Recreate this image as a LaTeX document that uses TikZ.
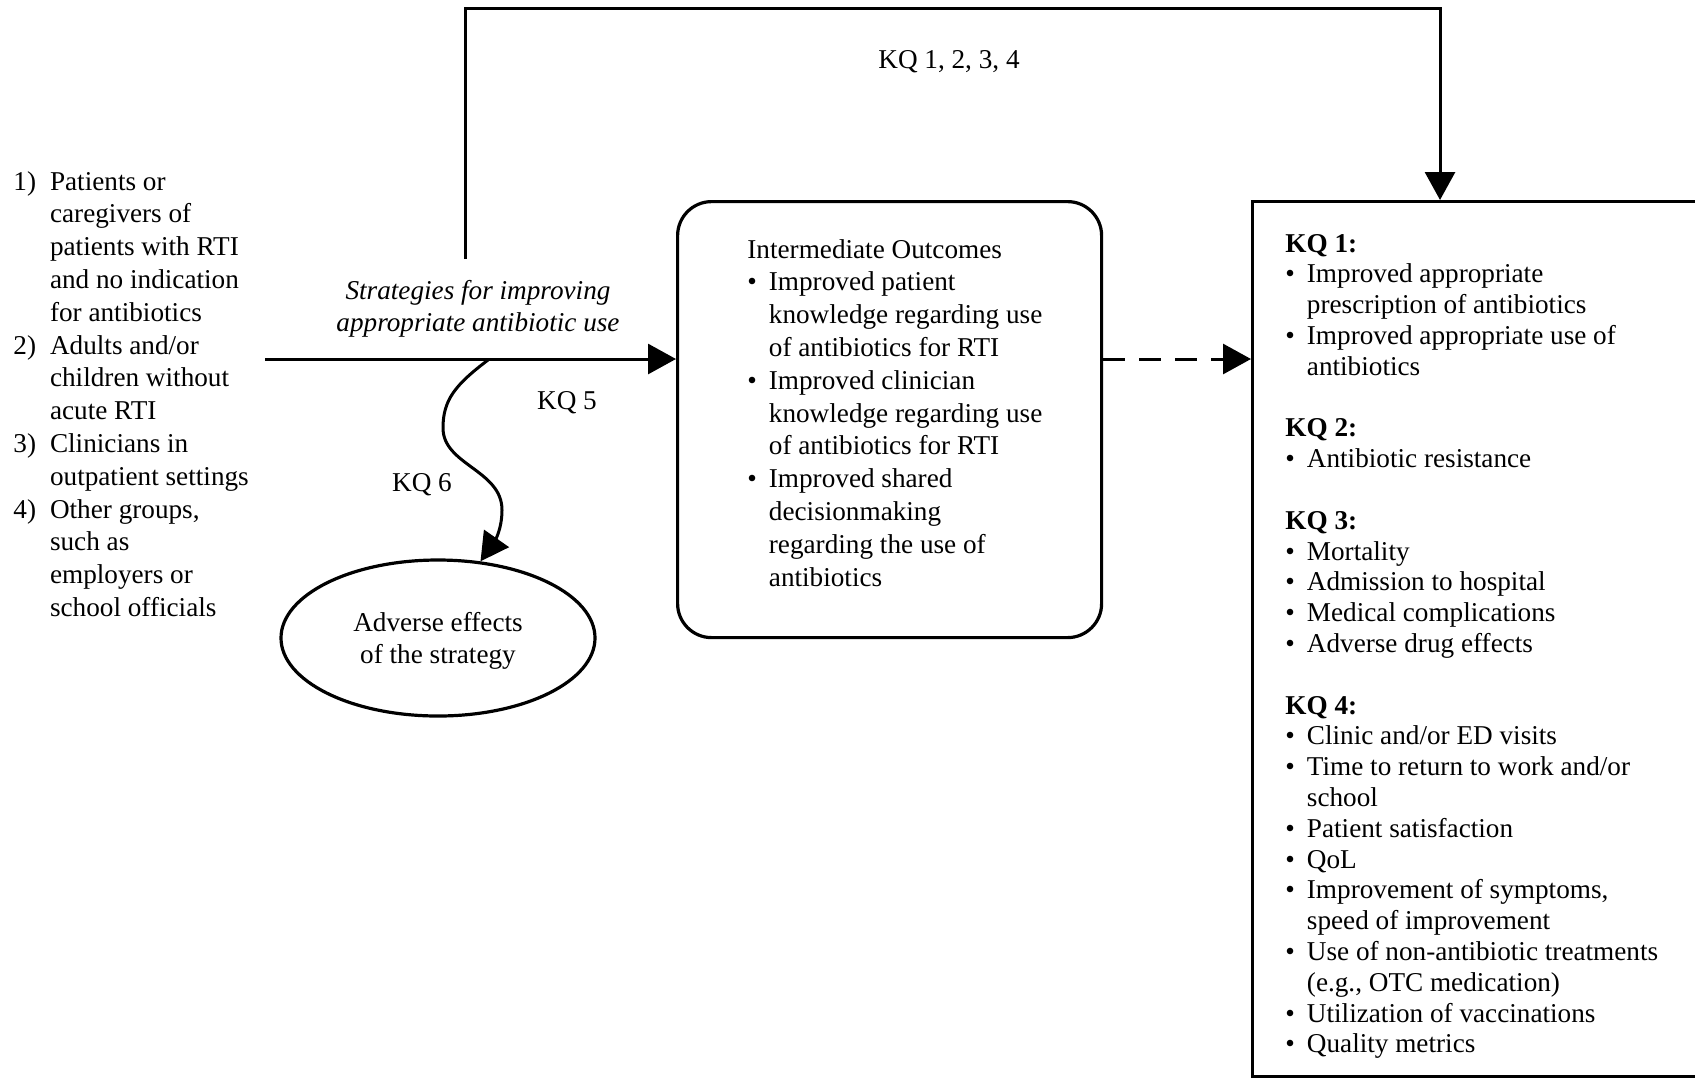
\documentclass[tikz,border=0pt]{standalone}
\usepackage{fontspec}
\setmainfont{Liberation Serif}
\usetikzlibrary{arrows.meta,shapes.geometric}
\tikzset{
  txt/.style={inner sep=0pt, font=\fontsize{13.6pt}{16.4pt}\selectfont},
  txttight/.style={inner sep=0pt, font=\fontsize{13.6pt}{15.4pt}\selectfont},
  conn/.style={line width=1.5pt},
  tip/.style={-{Triangle[length=14pt,width=15pt]}},
  boxline/.style={draw, line width=1.6pt},
}
\newcommand{\bl}{\textbullet}
\newcommand{\kqhead}[1]{\multicolumn{2}{@{}l@{}}{\textbf{#1}}}

\begin{document}
\begin{tikzpicture}[x=0.5pt,y=-0.5pt]
    \useasboundingbox (0,0) rectangle (1695,1077);

    % Boxes
    \node[boxline, rounded corners=17pt, minimum width=212pt, minimum height=218pt, anchor=north west] (inter) at (676,200) {};
    \node[boxline, minimum width=223pt, minimum height=437.5pt, anchor=north west] (outc) at (1251,200) {};
    \node[boxline, ellipse, minimum width=157pt, minimum height=78pt, txt] (adverse) at (438,638)
        {\raisebox{-1.5pt}[\height][\depth]{\begin{tabular}{@{}c@{}}Adverse effects\\of the strategy\end{tabular}}};

    % Population
    \node[txt, anchor=base west] (pop) at (13,190) {\begin{tabular}[t]{@{}l@{\hspace{7pt}}l@{}}
        1) & Patients or\\
           & caregivers of\\
           & patients with RTI\\
           & and no indication\\
           & for antibiotics\\
        2) & Adults and/or\\
           & children without\\
           & acute RTI\\
        3) & Clinicians in\\
           & outpatient settings\\
        4) & Other groups,\\
           & such as\\
           & employers or\\
           & school officials
    \end{tabular}};

    % Intermediate outcomes
    \node[txt, anchor=base west] (intertxt) at (747,258) {\begin{tabular}[t]{@{}l@{\hspace{6pt}}l@{}}
        \multicolumn{2}{@{}l@{}}{Intermediate Outcomes}\\
        \bl & Improved patient\\
            & knowledge regarding use\\
            & of antibiotics for RTI\\
        \bl & Improved clinician\\
            & knowledge regarding use\\
            & of antibiotics for RTI\\
        \bl & Improved shared\\
            & decisionmaking\\
            & regarding the use of\\
            & antibiotics
    \end{tabular}};

    % Final outcomes
    \node[txttight, anchor=base west] (outctxt) at (1285,252) {\begin{tabular}[t]{@{}l@{\hspace{6pt}}l@{}}
        \kqhead{KQ 1:}\\
        \bl & Improved appropriate\\
            & prescription of antibiotics\\
        \bl & Improved appropriate use of\\
            & antibiotics\\
            & \\
        \kqhead{KQ 2:}\\
        \bl & Antibiotic resistance\\
            & \\
        \kqhead{KQ 3:}\\
        \bl & Mortality\\
        \bl & Admission to hospital\\
        \bl & Medical complications\\
        \bl & Adverse drug effects\\
            & \\
        \kqhead{KQ 4:}\\
        \bl & Clinic and/or ED visits\\
        \bl & Time to return to work and/or\\
            & school\\
        \bl & Patient satisfaction\\
        \bl & QoL\\
        \bl & Improvement of symptoms,\\
            & speed of improvement\\
        \bl & Use of non-antibiotic treatments\\
            & (e.g., OTC medication)\\
        \bl & Utilization of vaccinations\\
        \bl & Quality metrics
    \end{tabular}};

    % Labels
    \node[txt, anchor=base] (strat) at (478,299) {\begin{tabular}[t]{@{}c@{}}
        \itshape Strategies for improving\\
        \itshape appropriate antibiotic use
    \end{tabular}};
    \node[txt] (kqall) at (949,62) {KQ 1, 2, 3, 4};
    \node[txt] (kqfive) at (567,403) {KQ 5};
    \node[txt] (kqsix) at (422,485) {KQ 6};

    % Connectors
    \coordinate (src) at (265,359);
    \coordinate (topstart) at (465,259);
    \coordinate (ridge) at (465,8);
    \coordinate (kqin) at (1440,200);
    \coordinate (wavestart) at (488,360);

    \draw[conn,tip] (src) -- (inter.west |- src);
    \draw[conn,tip,dash pattern=on 11pt off 7pt] (inter.east |- src) -- (outc.west |- src);
    \draw[conn,tip] (topstart) -- (ridge) -| (kqin);
    \draw[conn,tip] (wavestart) .. controls (455,385) and (443,400) .. (443,428)
        .. controls (443,465) and (502,470) .. (502,510)
        .. controls (502,530) and (494,542) .. (adverse.61);
\end{tikzpicture}
\end{document}
